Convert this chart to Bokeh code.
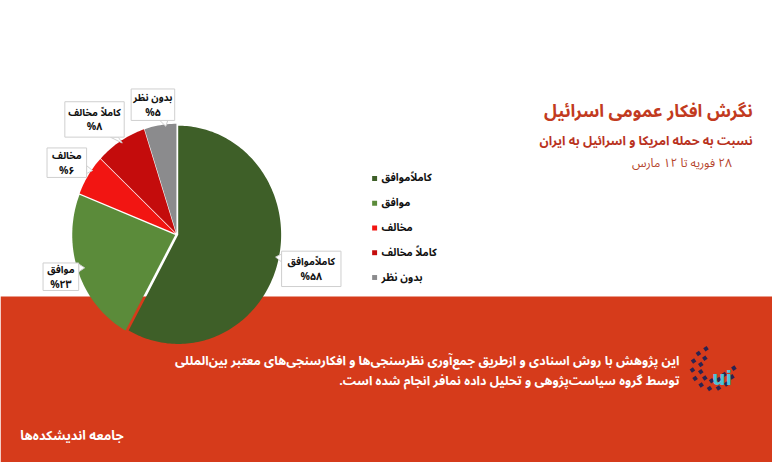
import numpy as np
from bokeh.plotting import figure
from bokeh.models import Range1d
from bokeh.core.properties import value
from bokeh.embed import file_html
from bokeh.resources import INLINE

# ---------------- data ----------------
categories = ["کاملاًموافق", "موافق", "مخالف", "کاملاً مخالف", "بدون نظر"]
percent = [58, 23, 6, 8, 5]
colors = ["#3e5f28", "#5b8b3a", "#f21512", "#c40c0c", "#8b8b8d"]

title_text = "نگرش افکار عمومی اسرائیل"
subtitle_text = "نسبت به حمله امریکا و اسرائیل به ایران"
date_text = "۲۸ فوریه تا ۱۲ مارس"
note_lines = [
    "این پژوهش با روش اسنادی و ازطریق جمع‌آوری نظرسنجی‌ها و افکارسنجی‌های معتبر بین‌المللی",
    "توسط گروه سیاست‌پژوهی و تحلیل داده نمافر انجام شده است.",
]
brand_text = "جامعه اندیشکده‌ها"


def fa_digits(n):
    return str(n).translate(str.maketrans("0123456789", "۰۱۲۳۴۵۶۷۸۹"))


def rtl(s):
    return "\u202b" + s + "\u202c"


pct_labels = ["%" + fa_digits(v) for v in percent]

# ---------------- layout ----------------
FONT = value("Noto Sans Arabic")
W, H = 772, 462
p = figure(width=W, height=H, x_range=Range1d(0, 780), y_range=Range1d(470, 0),
           output_backend="svg", toolbar_location=None, min_border=0)
p.axis.visible = False
p.grid.visible = False
p.outline_line_color = None
p.background_fill_color = "white"
p.border_fill_color = "white"

# red band
p.quad(left=0, right=780, top=301, bottom=470, fill_color="#d63b1b", line_color=None)

# pie (elliptical, clockwise from top, slices slightly separated)
cx, cy, rx, ry = 178, 238, 104, 111
gap = 1.6
total = float(sum(percent))
start = 0.0
xs_all, ys_all = [], []
for v in percent:
    a0 = start
    a1 = start + 2 * np.pi * v / total
    mid = (a0 + a1) / 2
    dx, dy = gap * np.sin(mid), -gap * np.cos(mid)
    t = np.linspace(a0, a1, max(8, int(v * 3)))
    xs = np.concatenate([[cx], cx + rx * np.sin(t)]) + dx
    ys = np.concatenate([[cy], cy - ry * np.cos(t)]) + dy
    xs_all.append(list(xs))
    ys_all.append(list(ys))
    start = a1
p.patches(xs_all, ys_all, fill_color=colors, line_color=None)

# legend
leg_x, leg_y0, leg_dy = 378, 181, 25.2
leg_y = [leg_y0 + i * leg_dy for i in range(len(categories))]
p.rect(x=[leg_x] * len(categories), y=leg_y, width=5, height=5, fill_color=colors, line_color=None)
p.text(x=[leg_x + 7] * len(categories), y=leg_y, text=[rtl(c) for c in categories], text_font=FONT,
       text_font_size="10.5px", text_font_style="bold", text_color="#111111",
       text_align="left", text_baseline="middle")

# callout boxes (center x, center y, width, height) for each slice label
box_cx = [314, 61, 67, 95, 154]
box_cy = [273, 281, 165, 121, 106]
box_w = [60, 36, 40, 60, 44]
box_h = [36, 28, 30, 36, 32]
ptr_x = [[284, 284, 278], [79, 79, 85], [87, 87, 93], [111, 119, 123], [161, 169, 167]]
ptr_y = [[258, 266, 261], [268, 276, 272], [168, 176, 173], [139, 139, 145], [122, 122, 128]]
p.patches(ptr_x, ptr_y, fill_color="white", line_color="#cfcfcf", line_width=1)
p.rect(x=box_cx, y=box_cy, width=box_w, height=box_h, fill_color="white",
       line_color="#cfcfcf", line_width=1)
p.text(x=box_cx, y=[c - 7 for c in box_cy], text=[rtl(c) for c in categories], text_font=FONT,
       text_font_size="10px", text_font_style="bold", text_color="#111111",
       text_align="center", text_baseline="middle")
p.text(x=box_cx, y=[c + 8 for c in box_cy], text=pct_labels, text_font=FONT,
       text_font_size="10.5px", text_font_style="bold", text_color="#111111",
       text_align="center", text_baseline="middle")

# titles
p.text(x=[760], y=[113], text=[rtl(title_text)], text_font=FONT, text_font_size="17.5px",
       text_font_style="bold", text_color="#c23a20", text_align="right", text_baseline="middle")
p.text(x=[760], y=[143], text=[rtl(subtitle_text)], text_font=FONT, text_font_size="12.5px",
       text_font_style="bold", text_color="#b9321e", text_align="right", text_baseline="middle")
p.text(x=[739], y=[166], text=[rtl(date_text)], text_font=FONT, text_font_size="12px",
       text_color="#b5442c", text_align="right", text_baseline="middle")

# note text on band
p.text(x=[686, 686], y=[367, 387], text=[rtl(s) for s in note_lines], text_font=FONT,
       text_font_size="12.5px", text_font_style="bold", text_color="white",
       text_align="right", text_baseline="middle")

# brand
p.text(x=[20], y=[443], text=[rtl(brand_text)], text_font=FONT, text_font_size="13px",
       text_font_style="bold", text_color="white", text_align="left", text_baseline="middle")

# right logo: ring of dots + cyan mark
lc_x, lc_y = 720, 374
ang_o = np.radians(np.linspace(110, 360, 11))
ang_i = np.radians(np.linspace(130, 330, 7))
dot_x = list(lc_x + 21 * np.cos(ang_o)) + list(lc_x + 13 * np.cos(ang_i))
dot_y = list(lc_y - 21 * np.sin(ang_o)) + list(lc_y - 13 * np.sin(ang_i))
p.scatter(dot_x, dot_y, size=4, marker="square", fill_color="#2b2350", line_color=None, angle=0.6)
p.text(x=[729], y=[384], text=["ui"], text_font=value("DejaVu Sans"), text_font_size="19px",
       text_font_style="bold", text_color="#4cc3d8", text_align="center", text_baseline="middle")

open("out.html", "w").write(file_html(p, INLINE))
